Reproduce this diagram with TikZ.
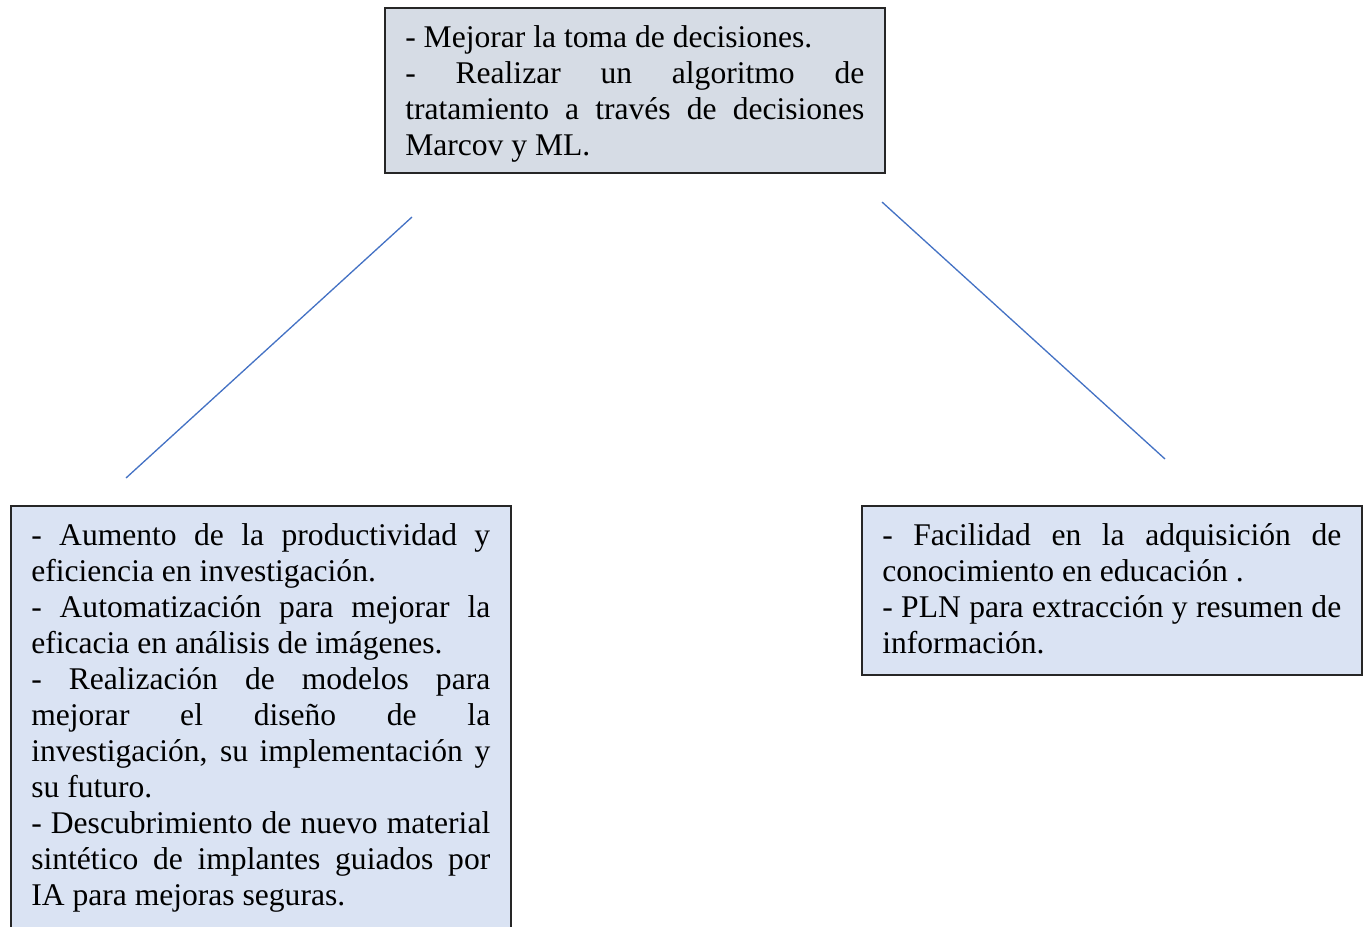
\documentclass[tikz,border=0pt]{standalone}
\usepackage{fontspec}
\setmainfont{Liberation Serif}
\usepackage{tikz}
\setlength{\parindent}{0pt}
\hyphenpenalty=10000
\definecolor{boxgray}{HTML}{D6DCE5}
\definecolor{boxblue}{HTML}{DAE3F3}
\definecolor{linkblue}{HTML}{4472C4}
\newcommand{\topstrut}{\rule{0pt}{11.2pt}}
\newcommand{\botstrut}[1]{\rule[-#1]{0pt}{#1}}

\begin{document}
\begin{tikzpicture}[x=0.38pt, y=-0.38pt,
        textbox/.style={draw=black!85, line width=0.6pt, anchor=north west,
            text width=174.4pt, inner xsep=7.8pt, inner ysep=4pt,
            font=\fontsize{12pt}{13.68pt}\selectfont, align=justify},
        link/.style={draw=linkblue, line width=0.5pt}]
        \useasboundingbox (0, 0) rectangle (1368, 926);

        \node[textbox, fill=boxgray] (goal) at (384, 7)
        {\topstrut- Mejorar la toma de decisiones.\par
        - Realizar un algoritmo de\linebreak
        tratamiento a través de decisiones\linebreak
        Marcov y ML.};

        \node[textbox, fill=boxblue] (research) at (10, 505)
        {\topstrut- Aumento de la productividad y\linebreak
        eficiencia en investigación.\par
        - Automatización para mejorar la\linebreak
        eficacia en análisis de imágenes.\par
        - Realización de modelos para\linebreak
        mejorar el diseño de la\linebreak
        investigación, su implementación y\linebreak
        su futuro.\par
        - Descubrimiento de nuevo material\linebreak
        sintético de implantes guiados por\linebreak
        IA para mejoras seguras.\botstrut{8pt}};

        \node[textbox, fill=boxblue] (education) at (861, 505)
        {\topstrut- Facilidad en la adquisición de\linebreak
        conocimiento en educación .\par
        - PLN para extracción y resumen de\linebreak
        información.\botstrut{4pt}};

        \coordinate (leftup) at (412, 217);
        \coordinate (leftdown) at (126, 478);
        \coordinate (rightup) at (882, 202);
        \coordinate (rightdown) at (1165, 459);

        \draw[link] (leftup) -- (leftdown);
        \draw[link] (rightup) -- (rightdown);
    \end{tikzpicture}
\end{document}
